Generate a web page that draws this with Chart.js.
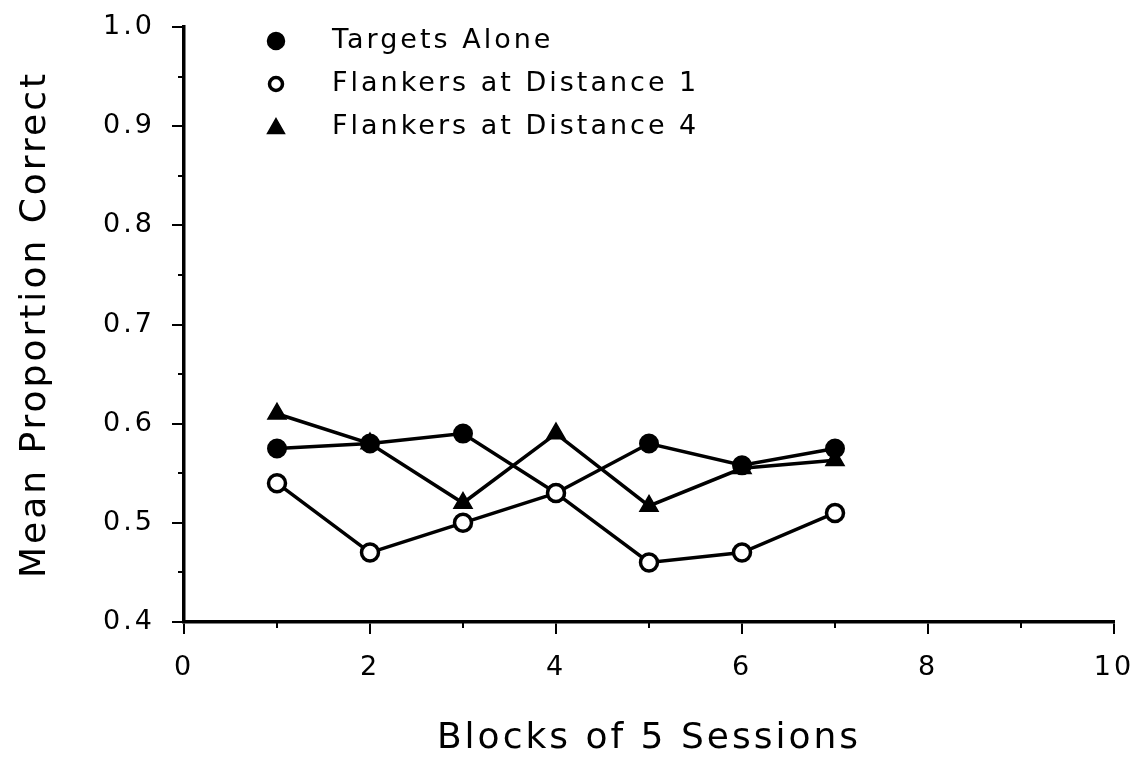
<!DOCTYPE html>
<html>
<head>
<meta charset="utf-8">
<script src="https://cdn.jsdelivr.net/npm/chart.js@4/dist/chart.umd.min.js"></script>
<style>
  html, body { margin: 0; padding: 0; background: #fff; }
  canvas { display: block; }
</style>
</head>
<body>
<canvas id="c" width="1136" height="778"></canvas>
<script>
// Block numbers (x) and mean proportion correct per condition (y)
const blocks = [1, 2, 3, 4, 5, 6, 7];
const targetsAlone  = [0.575, 0.580, 0.590, 0.530, 0.580, 0.558, 0.575];
const flankersDist1 = [0.540, 0.470, 0.500, 0.530, 0.460, 0.470, 0.510];
const flankersDist4 = [0.610, 0.580, 0.520, 0.590, 0.517, 0.555, 0.563];
const seriesNames = ['Targets Alone', 'Flankers at Distance 1', 'Flankers at Distance 4'];

// Axis ticks
const xTicks = [0, 2, 4, 6, 8, 10];
const xMinorTicks = [1, 3, 5, 7, 9];
const yTicks = [0.4, 0.5, 0.6, 0.7, 0.8, 0.9, 1.0];
const yMinorTicks = [0.45, 0.55, 0.65, 0.75, 0.85, 0.95];

const FONT = '"DejaVu Sans", "Liberation Sans", sans-serif';
const INK = '#000';
const SPACING = '3px';

function toPoints(ys) { return blocks.map((x, i) => ({ x: x, y: ys[i] })); }

const datasets = [
  { label: seriesNames[2], data: toPoints(flankersDist4), pointStyle: 'triangle',
    pointRadius: 10.5, pointBorderWidth: 1.5, backgroundColor: INK },
  { label: seriesNames[1], data: toPoints(flankersDist1), pointStyle: 'circle',
    pointRadius: 8.5, pointBorderWidth: 3.5, backgroundColor: '#fff' },
  { label: seriesNames[0], data: toPoints(targetsAlone), pointStyle: 'circle',
    pointRadius: 9, pointBorderWidth: 2, backgroundColor: INK }
].map(d => Object.assign({
  borderColor: INK, borderWidth: 3.5, pointBorderColor: INK,
  pointBackgroundColor: d.backgroundColor, tension: 0, fill: false
}, d));

// Wider letter spacing for all canvas text
const letterSpacing = {
  id: 'letterSpacing',
  beforeLayout(chart) { chart.ctx.letterSpacing = SPACING; },
  beforeDraw(chart) { chart.ctx.letterSpacing = SPACING; }
};

// Minor tick marks on both axes
const minorTicks = {
  id: 'minorTicks',
  afterDraw(chart) {
    const { ctx, scales: { x, y } } = chart;
    ctx.save();
    ctx.strokeStyle = INK;
    ctx.lineWidth = 2;
    ctx.beginPath();
    yMinorTicks.forEach(v => {
      const py = Math.round(y.getPixelForValue(v));
      ctx.moveTo(x.left - 6, py); ctx.lineTo(x.left, py);
    });
    xMinorTicks.forEach(v => {
      const px = Math.round(x.getPixelForValue(v));
      ctx.moveTo(px, y.bottom); ctx.lineTo(px, y.bottom + 6);
    });
    ctx.stroke();
    ctx.restore();
  }
};

// Legend drawn inside the plot, top left
const innerLegend = {
  id: 'innerLegend',
  afterDraw(chart) {
    const { ctx } = chart;
    const order = [0, 1, 2].map(k => chart.data.datasets.find(d => d.label === seriesNames[k]));
    ctx.save();
    order.forEach((ds, i) => {
      const cy = 41 + i * 43;
      const cx = 276;
      ctx.fillStyle = ds.pointBackgroundColor;
      ctx.strokeStyle = INK;
      ctx.beginPath();
      if (ds.pointStyle === 'triangle') {
        const r = 8.5;
        ctx.lineWidth = 1.5;
        ctx.moveTo(cx, cy - r);
        ctx.lineTo(cx + r, cy + r * 0.75);
        ctx.lineTo(cx - r, cy + r * 0.75);
        ctx.closePath();
      } else if (ds.pointBackgroundColor === INK) {
        ctx.lineWidth = 1.5;
        ctx.arc(cx, cy, 8.5, 0, Math.PI * 2);
      } else {
        ctx.lineWidth = 3.5;
        ctx.arc(cx, cy, 6.5, 0, Math.PI * 2);
      }
      ctx.fill();
      ctx.stroke();
      ctx.fillStyle = INK;
      ctx.font = '27px ' + FONT;
      ctx.textBaseline = 'middle';
      ctx.textAlign = 'left';
      ctx.fillText(ds.label, 332, cy);
    });
    ctx.restore();
  }
};

new Chart(document.getElementById('c'), {
  type: 'line',
  data: { datasets: datasets },
  options: {
    responsive: false,
    animation: false,
    layout: { padding: { left: 0, top: 27, right: 22, bottom: 0 } },
    plugins: { legend: { display: false }, tooltip: { enabled: false } },
    scales: {
      x: {
        type: 'linear', min: 0, max: 10,
        afterBuildTicks(s) { s.ticks = xTicks.map(v => ({ value: v })); },
        afterFit(s) { s.height = 156; s.paddingLeft = 0; s.paddingRight = 0; },
        ticks: { color: INK, font: { family: FONT, size: 27 }, padding: 18, maxRotation: 0 },
        grid: { display: true, drawOnChartArea: false, drawTicks: true, tickLength: 12,
                color: INK, lineWidth: 2 },
        border: { display: true, color: INK, width: 3.5 },
        title: { display: true, text: 'Blocks of 5 Sessions', color: INK,
                 font: { family: FONT, size: 36 }, padding: { top: 0, bottom: 18 } }
      },
      y: {
        type: 'linear', min: 0.4, max: 1.0,
        afterBuildTicks(s) { s.ticks = yTicks.map(v => ({ value: v })); },
        afterFit(s) { s.width = 184; s.paddingTop = 0; s.paddingBottom = 0; },
        ticks: { color: INK, font: { family: FONT, size: 27 }, padding: 17,
                 callback: v => Number(v).toFixed(1) },
        grid: { display: true, drawOnChartArea: false, drawTicks: true, tickLength: 12,
                color: INK, lineWidth: 2 },
        border: { display: true, color: INK, width: 3.5 },
        title: { display: true, text: 'Mean Proportion Correct', color: INK,
                 font: { family: FONT, size: 36 }, padding: { top: 14, bottom: 0 } }
      }
    }
  },
  plugins: [letterSpacing, minorTicks, innerLegend]
});
</script>
</body>
</html>
